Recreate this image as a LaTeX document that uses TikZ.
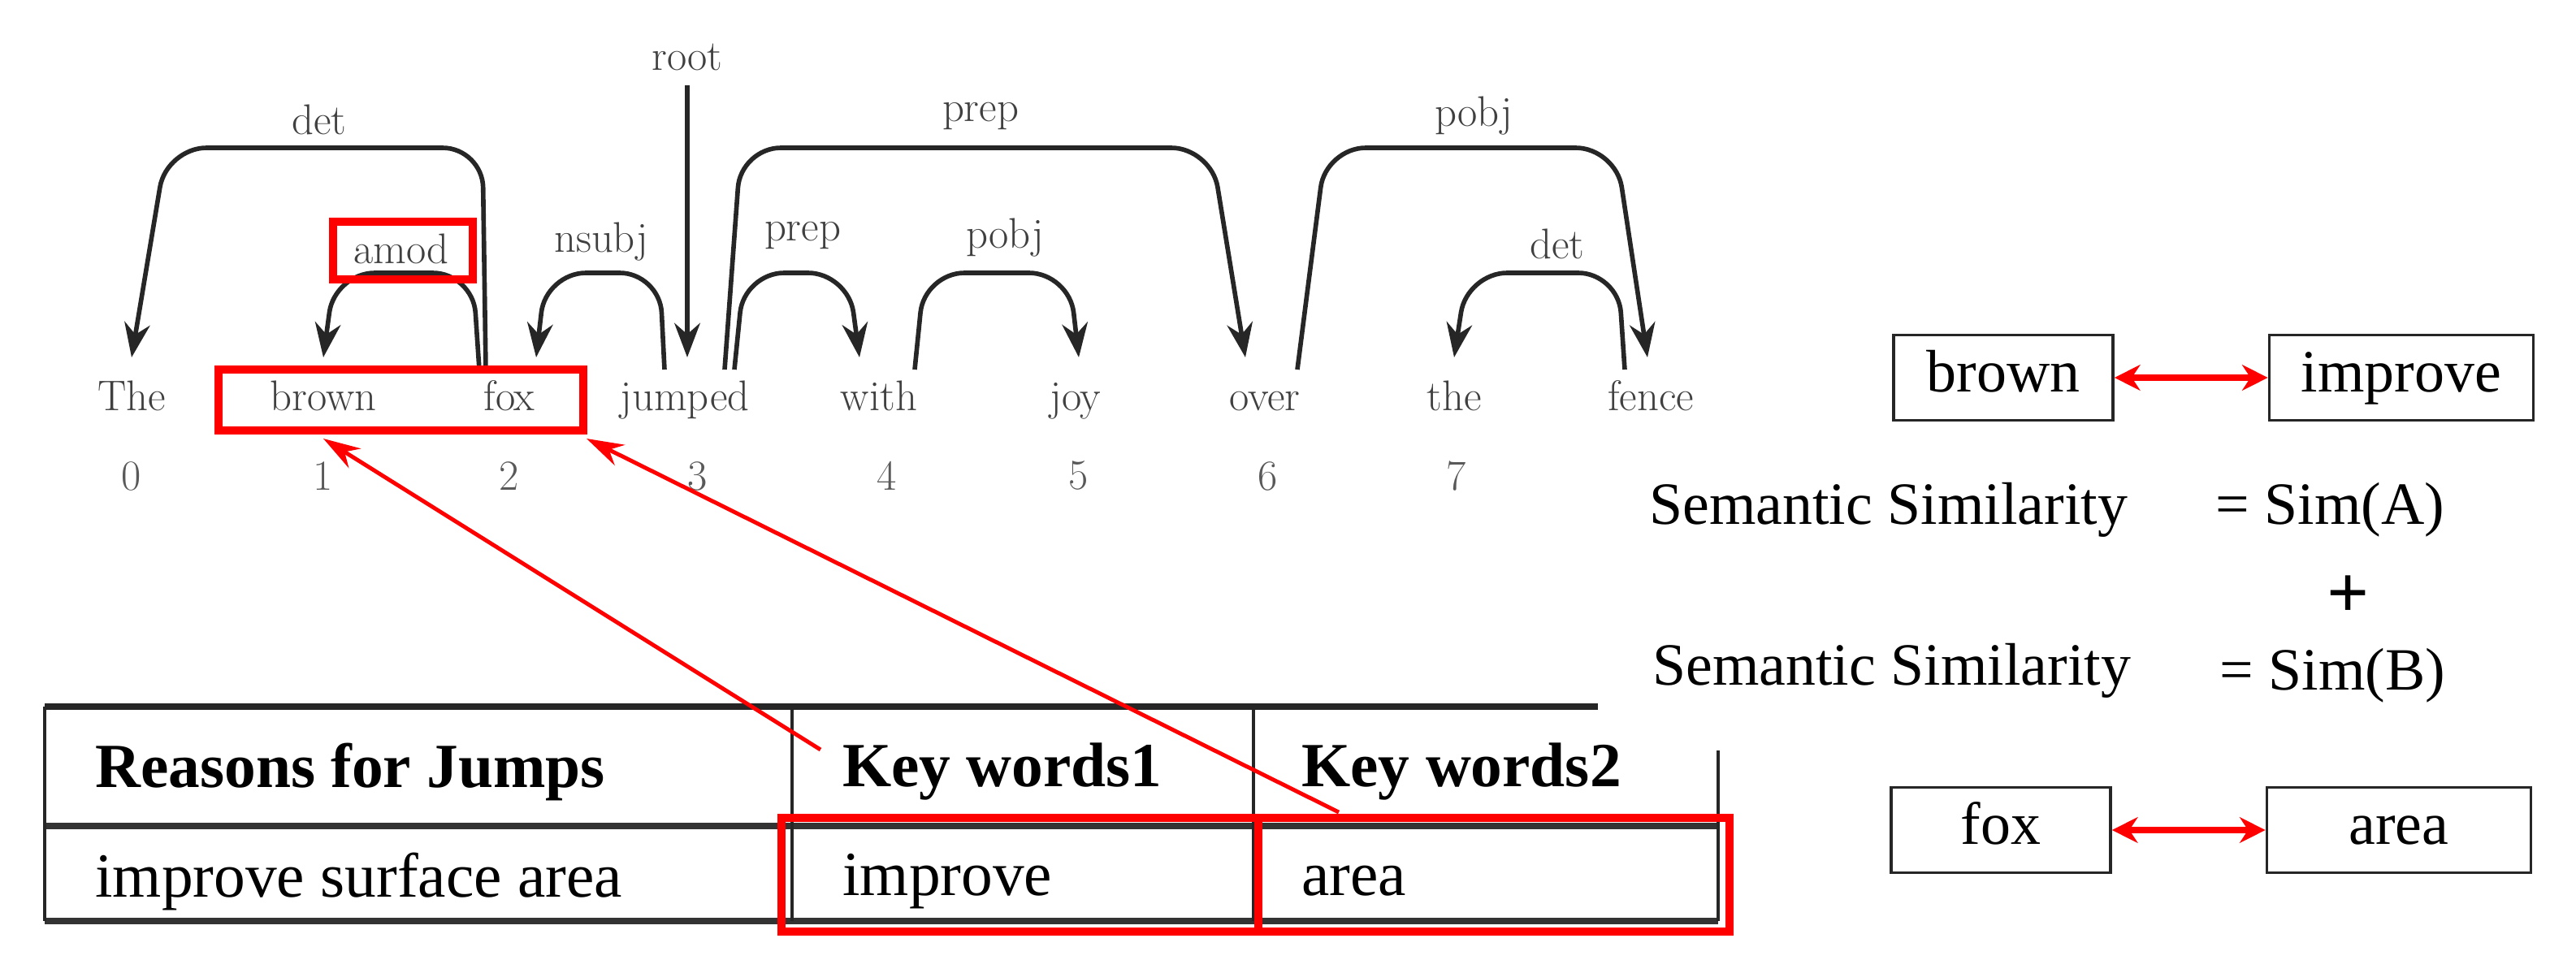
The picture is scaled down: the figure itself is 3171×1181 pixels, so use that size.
\documentclass[tikz,border=0pt]{standalone}
\usepackage{fontspec}
\newfontfamily\tms{Liberation Serif}
\usetikzlibrary{arrows.meta}
\begin{document}
\begin{tikzpicture}[x=0.01cm,y=-0.01cm,
  wd/.style={font=\fontsize{15}{18}\selectfont, text=black!75, anchor=base, inner sep=1pt},
  num/.style={font=\fontsize{15}{18}\selectfont, text=black!65},
  lbl/.style={font=\fontsize{15}{18}\selectfont, text=black!75},
  dep/.style={draw=black!85, line width=1.6pt, rounded corners=14, -{Stealth[length=12pt,width=9pt]}},
  redbox/.style={draw=red, line width=2.6pt},
  redarr/.style={draw=red, line width=1.4pt, -{Stealth[length=13pt,width=8pt]}},
  bx/.style={draw=black!85, line width=1pt, minimum height=1.05cm, text height=15pt, text depth=5pt, font=\tms\fontsize{21}{24}\selectfont},
  sem/.style={font=\tms\fontsize{21}{24}\selectfont, anchor=west},
  tb/.style={font=\tms\bfseries\fontsize{22}{26}\selectfont, anchor=west},
  tr/.style={font=\tms\fontsize{22}{26}\selectfont, anchor=west},
  dbl/.style={red, line width=2.4pt, {Stealth[length=9pt,width=9pt]}-{Stealth[length=9pt,width=9pt]}}]
\useasboundingbox (0,0) rectangle (3171,1181);
% words
\node[wd] (w0) at (162,505) {The};
\node[wd] (w1) at (398,505) {brown};
\node[wd] (w2) at (627,505) {fox};
\node[wd] (w3) at (843,505) {jumped};
\node[wd] (w4) at (1082,505) {with};
\node[wd] (w5) at (1324,505) {joy};
\node[wd] (w6) at (1557,505) {over};
\node[wd] (w7) at (1790,505) {the};
\node[wd] (w8) at (2032,505) {fence};
\foreach \i/\x in {0/162,1/398,2/627,3/859,4/1092,5/1328,6/1561,7/1793}
  \node[num] (n\i) at (\x,586) {\i};
% dependency arcs
\draw[dep] (598,455) -- (594,182) -- (205,182) -- (162,440);
\node[lbl] (ldet) at (393,147) {det};
\draw[dep] (590,455) -- (582,336) -- (412,336) -- (398,440);
\node[lbl] (lamod) at (494,306) {amod};
\draw[redbox] (410,273) rectangle (582,344);
\draw[dep] (818,455) -- (812,336) -- (672,336) -- (660,440);
\node[lbl] (lnsubj) at (740,298) {nsubj};
\node[lbl] (lroot) at (846,70) {root};
\draw[dep] (lroot.south |- 0,105) -- (846,440);
\draw[dep] (892,455) -- (912,182) -- (1491,182) -- (1533,440);
\node[lbl] (lprep) at (1207,143) {prep};
\draw[dep] (904,455) -- (916,336) -- (1044,336) -- (1058,440);
\node[lbl] (lprep2) at (988,290) {prep};
\draw[dep] (1126,455) -- (1138,336) -- (1316,336) -- (1328,440);
\node[lbl] (lpobj) at (1237,293) {pobj};
\draw[dep] (1597,455) -- (1632,182) -- (1989,182) -- (2028,440);
\node[lbl] (lpobj2) at (1814,143) {pobj};
\draw[dep] (2000,455) -- (1992,336) -- (1806,336) -- (1790,440);
\node[lbl] (ldet2) at (1917,300) {det};
% red box around brown fox
\draw[redbox] (269,455) rectangle (718,530);
% table
\draw[black!85, line width=2.4pt] (55,870) -- (1967,870);
\draw[black!80, line width=2.4pt] (55,1017) -- (2115,1017);
\draw[black!80, line width=2.4pt] (55,1134) -- (2115,1134);
\draw[black!85, line width=0.9pt] (55,870) -- (55,1134);
\draw[black!85, line width=0.9pt] (975,870) -- (975,1134);
\draw[black!85, line width=0.9pt] (1543,870) -- (1543,1134);
\draw[black!85, line width=0.9pt] (2115,924) -- (2115,1134);
\node[tb] (h1) at (105,950) {Reasons for Jumps};
\node[tb] (h2) at (1025,950) {Key words1};
\node[tb] (h3) at (1590,950) {Key words2};
\node[tr] (c1) at (105,1085) {improve surface area};
\node[tr] (c2) at (1025,1085) {improve};
\node[tr] (c3) at (1590,1085) {area};
\draw[redbox] (962,1007) rectangle (2129,1147);
\draw[redbox] (1549,1007) -- (1549,1147);
% red arrows
\coordinate (a1s) at (1010,923);
\coordinate (a2s) at (1648,1000);
\draw[redarr] (a1s) -- (398,540);
\draw[redarr] (a2s) -- (722,540);
% right part
\node[bx, minimum width=2.7cm] (brown) at (2466,465) {brown};
\node[bx, minimum width=3.25cm] (improve) at (2956,465) {improve};
\draw[dbl] (brown) -- (improve);
\node[sem] (s1) at (2018,628) {Semantic Similarity};
\node[sem] (e1) at (2715,628) {= Sim(A)};
\node[font=\tms\bfseries\fontsize{26}{28}\selectfont] (plus) at (2891,735) {+};
\node[sem] (s2) at (2022,826) {Semantic Similarity};
\node[sem] (e2) at (2720,832) {= Sim(B)};
\node[bx, minimum width=2.7cm] (fox) at (2463,1022) {fox};
\node[bx, minimum width=3.25cm] (area) at (2953,1022) {area};
\draw[dbl] (fox) -- (area);
\end{tikzpicture}
\end{document}
